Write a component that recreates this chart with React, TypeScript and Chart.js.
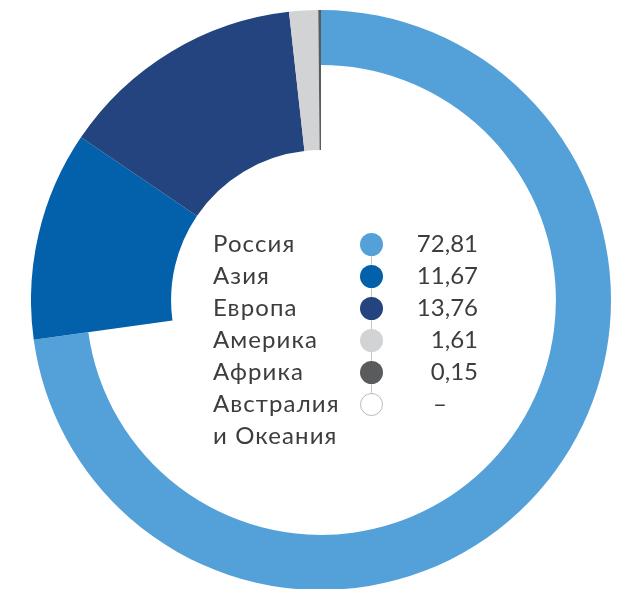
import React, { useEffect, useRef } from "react";
import { Chart, registerables } from "chart.js";

Chart.register(...registerables);

const regions = ["Россия", "Азия", "Европа", "Америка", "Африка", "Австралия\nи Океания"];
const shares: (number | null)[] = [72.81, 11.67, 13.76, 1.61, 0.15, null];
const colors = ["#53a1d8", "#0360ab", "#23447e", "#d2d3d5", "#5a5b5d", "#ffffff"];
// regions drawn as a thicker ring (inner radius as share of outer radius)
const thickRegions = [false, true, true, true, true, true];

const fmt = (v: number | null) => (v === null ? "–" : v.toFixed(2).replace(".", ","));

const thickPlugin = {
  id: "thickPlugin",
  beforeDatasetsDraw(chart: any) {
    const meta = chart.getDatasetMeta(0);
    meta.data.forEach((arc: any, i: number) => {
      if (thickRegions[i]) arc.innerRadius = arc.outerRadius * 0.517;
    });
  },
};

export default function App() {
  const ref = useRef<HTMLCanvasElement>(null);
  useEffect(() => {
    if (!ref.current) return;
    const chart = new Chart(ref.current, {
      type: "doughnut",
      data: {
        labels: regions,
        datasets: [
          {
            data: shares.map((v) => (v === null ? 0 : v)),
            backgroundColor: colors,
            borderWidth: 0,
          },
        ],
      },
      options: {
        animation: false,
        responsive: true,
        maintainAspectRatio: false,
        cutout: "81%",
        layout: { padding: 0 },
        plugins: { legend: { display: false }, tooltip: { enabled: false } },
      },
      plugins: [thickPlugin],
    });
    return () => chart.destroy();
  }, []);

  const rowH = 32;
  const firstCenter = 244;
  const font = "Lato, 'Open Sans', sans-serif";

  return (
    <div style={{ position: "fixed", left: 0, top: 0, width: 624, height: 589, overflow: "hidden", background: "#fff" }}>
      <div style={{ position: "absolute", left: 31, top: 10, width: 580, height: 580 }}>
        <canvas ref={ref} />
      </div>
      <div
        style={{
          position: "absolute",
          left: 371,
          top: firstCenter,
          width: 1,
          height: rowH * (regions.length - 1),
          background: "#c4c5c7",
        }}
      />
      {regions.map((r, i) => {
        const cy = firstCenter + i * rowH;
        return (
          <React.Fragment key={r}>
            <div
              style={{
                position: "absolute",
                left: 213,
                top: cy - rowH / 2 - 1,
                fontFamily: font,
                fontSize: 24,
                letterSpacing: "1.1px",
                lineHeight: rowH + "px",
                color: "#3d3d3d",
                whiteSpace: "pre",
              }}
            >
              {r}
            </div>
            <div
              style={{
                position: "absolute",
                left: 371 - 11.5,
                top: cy - 11.5,
                width: 23,
                height: 23,
                borderRadius: "50%",
                boxSizing: "border-box",
                background: colors[i],
                border: shares[i] === null ? "1px solid #b8b9bb" : "none",
              }}
            />
            <div
              style={{
                position: "absolute",
                left: shares[i] === null ? 420 : 380,
                width: shares[i] === null ? 40 : 98,
                top: cy - rowH / 2 - 1,
                fontFamily: font,
                fontSize: 24,
                lineHeight: rowH + "px",
                color: "#3d3d3d",
                textAlign: shares[i] === null ? "center" : "right",
              }}
            >
              {fmt(shares[i])}
            </div>
          </React.Fragment>
        );
      })}
    </div>
  );
}
